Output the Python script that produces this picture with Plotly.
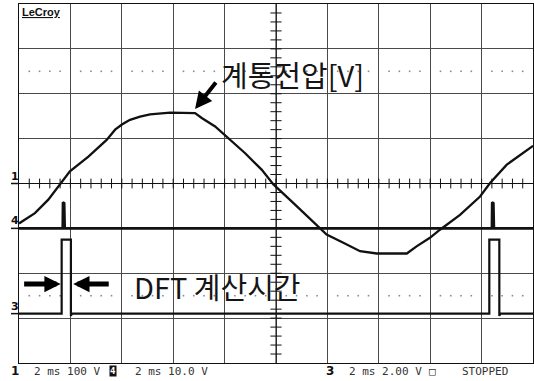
import plotly.graph_objects as go

# ---------------- scope data ----------------
# time axis: 2 ms/div, 10 divisions -> 0..20 ms ; vertical: 8 divisions
# Channel 1 : grid voltage, 100 V/div, ground at centre line
ch1_vdiv = 100.0
ch1_offset_div = 0.0
ch1_t = [0.0, 0.62, 1.14, 1.60, 1.98, 2.70, 3.41, 3.74, 4.02, 4.32,
         4.71, 5.10, 5.88, 6.85, 7.11, 7.63, 8.14, 8.79, 9.44, 9.90,
         10.67, 11.58, 11.97, 12.62, 13.27, 13.92, 15.09, 15.47, 15.99, 16.38,
         17.16, 17.94, 18.33, 18.98, 19.75, 20.0]
ch1_v = [-89, -66, -36, -2, 27, 60, 97, 120, 132, 142,
         149, 154, 158, 157, 146, 127, 101, 68, 31, -2,
         -43, -92, -114, -132, -151, -156, -156, -140, -121, -103,
         -70, -29, 1, 42, 75, 84]

# Channel 4 : 10 V/div, narrow spikes
ch4_vdiv = 10.0
ch4_offset_div = -1.0
ch4_t = [0.0, 1.70, 1.71, 1.76, 1.78, 18.40, 18.41, 18.46, 18.48, 20.0]
ch4_v = [0, 0, 5.8, 5.6, 0, 0, 5.8, 5.6, 0, 0]

# Channel 3 : 2 V/div, DFT calculation window pulses
ch3_vdiv = 2.0
ch3_offset_div = -2.9
ch3_t = [0.0, 1.66, 1.66, 2.02, 2.02, 2.06, 18.30, 18.30, 18.69, 18.69, 18.73, 20.0]
ch3_v = [0, 0, 3.3, 3.3, -0.1, 0, 0, 3.3, 3.3, -0.1, 0, 0]

# text
title_label = "계통전압[V]"
dft_label = "DFT 계산시간"
brand = "LeCroy"
bottom_channels = ["1", "4", "3"]
bottom_settings = ["2 ms 100 V", "2 ms 10.0 V", "2 ms 2.00 V"]
status_text = "STOPPED"

# ---------------- geometry helpers ----------------
W, H = 534, 381
L, R, T, B = 19, 1, 4, 18
PW, PH = W - L - R, H - T - B


def pxx(x):
    return (x - L) / PW


def pxy(y):
    return (H - B - y) / PH


def to_div(v, vdiv, off):
    return [off + a / vdiv for a in v]


fig = go.Figure()

# dotted rows
dot_x = [i * 0.4 for i in range(1, 50) if i % 5 != 0]
fig.add_trace(go.Scatter(
    x=dot_x + dot_x, y=[2.5] * len(dot_x) + [-2.5] * len(dot_x),
    mode="markers", marker=dict(symbol="square", size=1.6, color="#8a8a8a", line_width=0),
    hoverinfo="skip"))

# centre-axis tick marks
tick_x = [i * 0.4 for i in range(1, 50)]
fig.add_trace(go.Scatter(
    x=tick_x, y=[0] * len(tick_x), mode="markers",
    marker=dict(symbol="line-ns", size=7, line=dict(width=1, color="#111")),
    hoverinfo="skip"))
tick_y = [j * 0.2 for j in range(-19, 20)]
fig.add_trace(go.Scatter(
    x=[10] * len(tick_y), y=tick_y, mode="markers",
    marker=dict(symbol="line-ew", size=8, line=dict(width=1, color="#111")),
    hoverinfo="skip"))

# waveforms
fig.add_trace(go.Scatter(x=ch4_t, y=to_div(ch4_v, ch4_vdiv, ch4_offset_div), mode="lines",
                         line=dict(color="#111", width=2.6), hoverinfo="skip"))
fig.add_trace(go.Scatter(x=ch3_t, y=to_div(ch3_v, ch3_vdiv, ch3_offset_div), mode="lines",
                         line=dict(color="#111", width=2.2), hoverinfo="skip"))
fig.add_trace(go.Scatter(x=ch1_t, y=to_div(ch1_v, ch1_vdiv, ch1_offset_div), mode="lines",
                         line=dict(color="#111", width=2.3), hoverinfo="skip"))

# trigger marker
fig.add_trace(go.Scatter(x=[1.95], y=[-4.07], mode="markers", cliponaxis=False,
                         marker=dict(symbol="triangle-up", size=6, color="#111"),
                         hoverinfo="skip"))

shapes = [
    dict(type="line", xref="x", yref="y", x0=0, x1=20, y0=0, y1=0,
         line=dict(color="#111", width=1)),
    dict(type="line", xref="x", yref="y", x0=10, x1=10, y0=-4, y1=4,
         line=dict(color="#111", width=1)),
]
# channel ground markers at the left edge
for off in (ch1_offset_div, ch4_offset_div, ch3_offset_div):
    shapes.append(dict(type="line", xref="paper", yref="y", x0=pxx(11), x1=0,
                       y0=off, y1=off, line=dict(color="#111", width=1.5)))

annotations = []
mark_font = dict(family="DejaVu Sans", size=11, color="#111")
for lab, off in zip(["1", "4", "3"], (ch1_offset_div, ch4_offset_div, ch3_offset_div)):
    annotations.append(dict(text="<b>" + lab + "</b>", xref="paper", yref="y",
                            x=pxx(14.5), y=off, xanchor="center", yanchor="bottom",
                            yshift=-1, showarrow=False, font=mark_font))

annotations.append(dict(text="<u><b>" + brand + "</b></u>", xref="paper", yref="paper",
                        x=pxx(20), y=pxy(4.5), xanchor="left", yanchor="top", showarrow=False,
                        font=dict(family="Liberation Sans", size=11, color="#111")))

big_font = dict(family="Noto Sans CJK KR", size=29, color="#151515")
annotations.append(dict(text=title_label, xref="x", yref="y", x=10.66, y=2.43,
                        xanchor="center", yanchor="middle", showarrow=False, font=big_font))
annotations.append(dict(text=dft_label, xref="x", yref="y", x=7.74, y=-2.28,
                        xanchor="center", yanchor="middle", showarrow=False, font=big_font))

# arrows
annotations.append(dict(text="", xref="x", yref="y", x=6.85, y=1.66, ax=22, ay=-28,
                        showarrow=True, arrowhead=2, arrowwidth=4, arrowsize=0.85,
                        arrowcolor="#000", standoff=0))
annotations.append(dict(text="", xref="x", yref="y", x=1.62, y=-2.24, ax=-38, ay=0,
                        showarrow=True, arrowhead=2, arrowwidth=5, arrowsize=0.65,
                        arrowcolor="#000", standoff=0))
annotations.append(dict(text="", xref="x", yref="y", x=2.11, y=-2.24, ax=37, ay=0,
                        showarrow=True, arrowhead=2, arrowwidth=5, arrowsize=0.65,
                        arrowcolor="#000", standoff=0))

# bottom status line
mono = dict(family="DejaVu Sans Mono", size=11, color="#333")
yb = pxy(371.3)
annotations += [
    dict(text="<b>" + bottom_channels[0] + "</b>", x=pxx(14.5), y=yb, xanchor="center",
         font=dict(family="DejaVu Sans", size=12, color="#111")),
    dict(text=bottom_settings[0], x=pxx(31.5), y=yb, xanchor="left", font=mono),
    dict(text="<b>" + bottom_channels[1] + "</b>", x=pxx(112.5), y=yb, xanchor="center",
         bgcolor="#111", borderpad=0,
         font=dict(family="DejaVu Sans Mono", size=9, color="white")),
    dict(text=bottom_settings[1], x=pxx(133), y=yb, xanchor="left", font=mono),
    dict(text="<b>" + bottom_channels[2] + "</b>", x=pxx(329.5), y=yb, xanchor="center",
         font=dict(family="DejaVu Sans", size=12, color="#111")),
    dict(text=bottom_settings[2], x=pxx(346.5), y=yb, xanchor="left", font=mono),
    dict(text="□", x=pxx(432.5), y=yb, xanchor="center", font=mono),
    dict(text=status_text, x=pxx(460), y=yb, xanchor="left", font=mono),
]
for a in annotations[-8:]:
    a.update(xref="paper", yref="paper", yanchor="middle", showarrow=False)

axis_common = dict(showgrid=True, gridcolor="#4a4a4a", gridwidth=1, zeroline=False,
                   showticklabels=False, ticks="", showline=True, mirror=True,
                   linecolor="#111", linewidth=1, fixedrange=True)
fig.update_layout(
    width=W, height=H, margin=dict(l=L, r=R, t=T, b=B),
    paper_bgcolor="white", plot_bgcolor="white", showlegend=False,
    xaxis=dict(range=[0, 20], dtick=2, tick0=0, **axis_common),
    yaxis=dict(range=[-4, 4], dtick=1, tick0=0, **axis_common),
    shapes=shapes, annotations=annotations,
)

fig.write_html("out.html")
